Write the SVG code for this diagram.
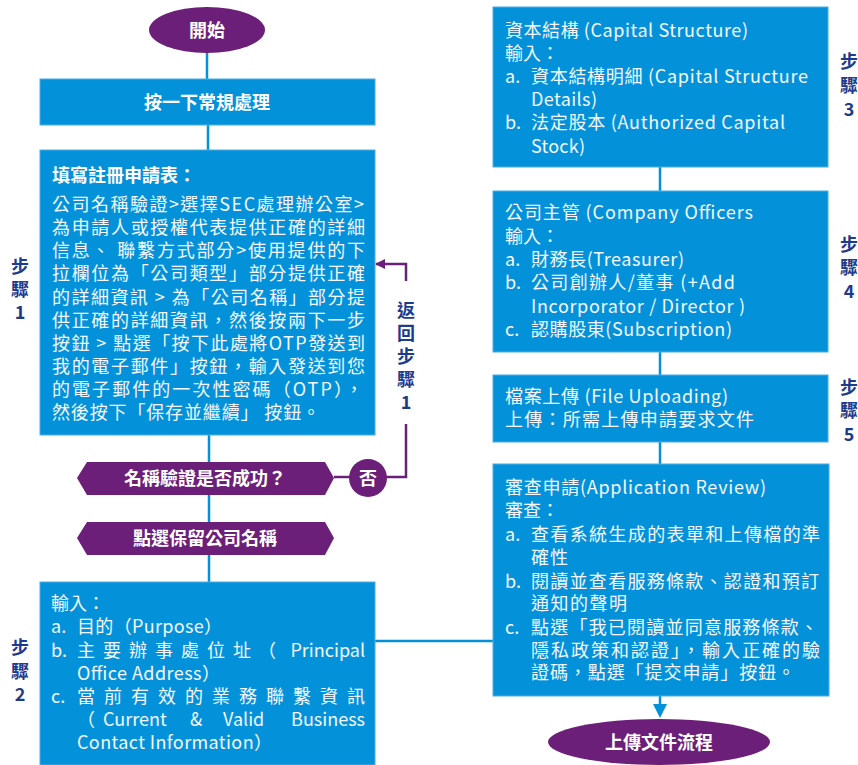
<svg xmlns="http://www.w3.org/2000/svg" width="858" height="765" viewBox="0 0 858 765">
<defs>
<style>
.box{fill:#0392DA;stroke:#4AAEE4;stroke-width:1}
.pur{fill:#6C1F78}
.t{font-family:"Noto Sans CJK TC","Noto Sans",sans-serif;font-size:18px;fill:#F4F8FC}
.tb{font-family:"Noto Sans CJK TC","Noto Sans",sans-serif;font-size:18px;font-weight:bold;fill:#FFFFFF}
.step{font-family:"Noto Sans CJK TC","Noto Sans",sans-serif;font-size:18px;font-weight:bold;fill:#1D3B8C;text-anchor:middle}
.bl{stroke:#0392DA;stroke-width:2.5;fill:none}
.pl{stroke:#6C1F78;stroke-width:2.5;fill:none}
</style>
<marker id="arrP" markerWidth="10" markerHeight="10" refX="9" refY="5" orient="auto" markerUnits="userSpaceOnUse" viewBox="0 0 10 10"><path d="M0,0 L10,5 L0,10 z" fill="#6C1F78"/></marker>
</defs>

<g id="connectors">
<line class="bl" x1="207" y1="52" x2="207" y2="79"/>
<line class="bl" x1="208" y1="125" x2="208" y2="150"/>
<line class="bl" x1="209" y1="435" x2="209" y2="582"/>
<line class="bl" x1="375" y1="641" x2="493" y2="641"/>
<line class="bl" x1="660" y1="167" x2="660" y2="191"/>
<line class="bl" x1="660" y1="352" x2="660" y2="375"/>
<line class="bl" x1="660" y1="442" x2="660" y2="464"/>
<line class="bl" x1="660" y1="696" x2="660" y2="706"/>
<path d="M653,704 L667,704 L660,718 z" fill="#0392DA"/>
<line class="pl" x1="334" y1="477" x2="350" y2="477"/>
<polyline class="pl" points="386,477 406,477 406,424"/>
<polyline class="pl" points="406,281 406,264 376,264" marker-end="url(#arrP)"/>
</g>

<g id="start">
<ellipse class="pur" cx="207" cy="30" rx="58" ry="23"/>
<text class="tb" x="207" y="36.5" text-anchor="middle">開始</text>
</g>

<g id="click-general">
<rect class="box" x="40" y="79" width="335" height="46"/>
<text class="tb" x="207" y="108.5" text-anchor="middle">按一下常規處理</text>
</g>

<g id="fill-form">
<rect class="box" x="40" y="150" width="335" height="285"/>
<text class="tb" x="52" y="182">填寫註冊申請表：</text>
<text class="t" x="52" y="211" textLength="312" lengthAdjust="spacing">公司名稱驗證&gt;選擇SEC處理辦公室&gt;</text>
<text class="t" x="52" y="234" textLength="313" lengthAdjust="spacing">為申請人或授權代表提供正確的詳細</text>
<text class="t" x="52" y="257" textLength="313" lengthAdjust="spacing">信息、 聯繫方式部分&gt;使用提供的下</text>
<text class="t" x="52" y="280" textLength="313" lengthAdjust="spacing">拉欄位為「公司類型」部分提供正確</text>
<text class="t" x="52" y="304" textLength="313" lengthAdjust="spacing">的詳細資訊 &gt; 為「公司名稱」部分提</text>
<text class="t" x="52" y="327" textLength="313" lengthAdjust="spacing">供正確的詳細資訊，然後按兩下一步</text>
<text class="t" x="52" y="350" textLength="313" lengthAdjust="spacing">按鈕 &gt; 點選「按下此處將OTP發送到</text>
<text class="t" x="52" y="373" textLength="313" lengthAdjust="spacing">我的電子郵件」按鈕，輸入發送到您</text>
<text class="t" x="52" y="396" textLength="311" lengthAdjust="spacing">的電子郵件的一次性密碼（OTP），</text>
<text class="t" x="52" y="419" textLength="268" lengthAdjust="spacing">然後按下「保存並繼續」 按鈕。</text>
</g>

<g id="step1-label">
<text class="step" x="20" y="273">步</text>
<text class="step" x="20" y="296">驟</text>
<text class="step" x="20" y="319">1</text>
</g>

<g id="return-label">
<text class="step" x="406" y="317">返</text>
<text class="step" x="406" y="340">回</text>
<text class="step" x="406" y="363">步</text>
<text class="step" x="406" y="386">驟</text>
<text class="step" x="406" y="409">1</text>
</g>

<g id="decision">
<polygon class="pur" points="77,478 87,462 325,462 334,478 325,495 87,495"/>
<text class="tb" x="205" y="485" text-anchor="middle">名稱驗證是否成功？</text>
</g>

<g id="no">
<circle class="pur" cx="368" cy="478" r="19"/>
<text class="tb" x="368" y="484.5" text-anchor="middle">否</text>
</g>

<g id="reserve-name">
<polygon class="pur" points="77,538 87,522 325,522 334,538 325,555 87,555"/>
<text class="tb" x="205" y="545" text-anchor="middle">點選保留公司名稱</text>
</g>

<g id="step2">
<rect class="box" x="40" y="582" width="335" height="183"/>
<text class="t" x="51" y="610">輸入：</text>
<text class="t" x="51" y="633">a.</text>
<text class="t" x="77" y="633" textLength="145" lengthAdjust="spacing">目的（Purpose）</text>
<text class="t" x="51" y="657">b.</text>
<text class="t" x="77 103 129 155 181 207 233 258" y="657">主要辦事處位址（</text>
<text class="t" x="365" y="657" text-anchor="end">Principal</text>
<text class="t" x="77" y="680" textLength="143" lengthAdjust="spacing">Office Address）</text>
<text class="t" x="51" y="703">c.</text>
<text class="t" x="77 104 131 158 185 212 239 266 293 320 347" y="703">當前有效的業務聯繫資訊</text>
<text class="t" x="77" y="726">（</text>
<text class="t" x="103" y="726">Current</text>
<text class="t" x="190" y="726">&amp;</text>
<text class="t" x="223" y="726">Valid</text>
<text class="t" x="365" y="726" text-anchor="end">Business</text>
<text class="t" x="77" y="749" textLength="195" lengthAdjust="spacing">Contact Information）</text>
</g>

<g id="step2-label">
<text class="step" x="20" y="654">步</text>
<text class="step" x="20" y="678">驟</text>
<text class="step" x="20" y="701">2</text>
</g>

<g id="capital">
<rect class="box" x="493" y="7" width="335" height="160"/>
<text class="t" x="505" y="37" textLength="243" lengthAdjust="spacing">資本結構 (Capital Structure)</text>
<text class="t" x="505" y="60">輸入：</text>
<text class="t" x="505" y="83">a.</text>
<text class="t" x="531" y="83" textLength="277" lengthAdjust="spacing">資本結構明細 (Capital Structure</text>
<text class="t" x="531" y="106" textLength="66" lengthAdjust="spacing">Details)</text>
<text class="t" x="505" y="129">b.</text>
<text class="t" x="531" y="129" textLength="254" lengthAdjust="spacing">法定股本 (Authorized Capital</text>
<text class="t" x="531" y="153" textLength="54" lengthAdjust="spacing">Stock)</text>
</g>

<g id="step3-label">
<text class="step" x="849" y="68">步</text>
<text class="step" x="849" y="92">驟</text>
<text class="step" x="849" y="116">3</text>
</g>

<g id="officers">
<rect class="box" x="493" y="191" width="335" height="161"/>
<text class="t" x="505" y="219" textLength="248" lengthAdjust="spacing">公司主管 (Company Officers</text>
<text class="t" x="505" y="243">輸入：</text>
<text class="t" x="505" y="266">a.</text>
<text class="t" x="531" y="266" textLength="153" lengthAdjust="spacing">財務長(Treasurer)</text>
<text class="t" x="505" y="289">b.</text>
<text class="t" x="531" y="289" textLength="204" lengthAdjust="spacing">公司創辦人/董事 (+Add</text>
<text class="t" x="531" y="313" textLength="214" lengthAdjust="spacing">Incorporator / Director )</text>
<text class="t" x="505" y="336">c.</text>
<text class="t" x="531" y="336" textLength="201" lengthAdjust="spacing">認購股東(Subscription)</text>
</g>

<g id="step4-label">
<text class="step" x="849" y="251">步</text>
<text class="step" x="849" y="274">驟</text>
<text class="step" x="849" y="298">4</text>
</g>

<g id="upload">
<rect class="box" x="493" y="375" width="335" height="67"/>
<text class="t" x="505" y="403" textLength="223" lengthAdjust="spacing">檔案上傳 (File Uploading)</text>
<text class="t" x="505" y="426" textLength="249" lengthAdjust="spacing">上傳：所需上傳申請要求文件</text>
</g>

<g id="step5-label">
<text class="step" x="849" y="394">步</text>
<text class="step" x="849" y="417">驟</text>
<text class="step" x="849" y="441">5</text>
</g>

<g id="review">
<rect class="box" x="493" y="464" width="336" height="232"/>
<text class="t" x="505" y="494" textLength="261" lengthAdjust="spacing">審查申請(Application Review)</text>
<text class="t" x="505" y="517">審查：</text>
<text class="t" x="505" y="541">a.</text>
<text class="t" x="531" y="541" textLength="289" lengthAdjust="spacing">查看系統生成的表單和上傳檔的準</text>
<text class="t" x="531" y="564" textLength="37" lengthAdjust="spacing">確性</text>
<text class="t" x="505" y="588">b.</text>
<text class="t" x="531" y="588" textLength="288" lengthAdjust="spacing">閱讀並查看服務條款、認證和預訂</text>
<text class="t" x="531" y="610" textLength="96" lengthAdjust="spacing">通知的聲明</text>
<text class="t" x="505" y="634">c.</text>
<text class="t" x="531" y="634" textLength="287" lengthAdjust="spacing">點選「我已閱讀並同意服務條款、</text>
<text class="t" x="531" y="657" textLength="289" lengthAdjust="spacing">隱私政策和認證」，輸入正確的驗</text>
<text class="t" x="531" y="679" textLength="264" lengthAdjust="spacing">證碼，點選「提交申請」按鈕。</text>
</g>

<g id="end">
<ellipse class="pur" cx="659" cy="742" rx="111" ry="23"/>
<text class="tb" x="659" y="749" text-anchor="middle">上傳文件流程</text>
</g>
</svg>
